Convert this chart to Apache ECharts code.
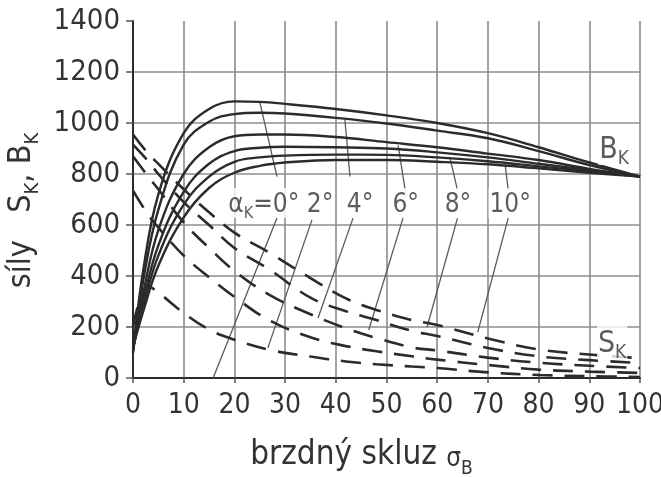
<!DOCTYPE html>
<html>
<head>
<meta charset="utf-8">
</head>
<body style="margin: 0; background: #fff">
<div id="container" style="width: 661px; height: 477px;"></div>
<script src="https://cdn.jsdelivr.net/npm/echarts@6/dist/echarts.min.js"></script>
<script type="text/javascript">
// brzdny skluz (x) for the solid B_K curves
var slipB = [0, 2, 5, 10, 15, 20, 25, 30, 40, 50, 60, 70, 80, 90, 100];
var bk0  = [100, 420, 720, 960, 1055, 1085, 1083, 1075, 1055, 1030, 1000, 960, 905, 845, 790];
var bk2  = [100, 380, 660, 915, 1005, 1035, 1040, 1037, 1020, 998, 970, 940, 890, 835, 790];
var bk4  = [110, 330, 580, 800, 905, 948, 955, 955, 945, 925, 905, 880, 855, 820, 790];
var bk6  = [110, 300, 520, 730, 840, 890, 903, 907, 905, 900, 885, 865, 840, 815, 790];
var bk8  = [120, 280, 480, 680, 790, 848, 865, 872, 876, 875, 865, 850, 830, 810, 790];
var bk10 = [120, 260, 440, 630, 745, 805, 832, 845, 855, 855, 848, 838, 822, 805, 790];

// x for the dashed S_K curves
var slipS = [0, 3, 5, 10, 15, 20, 27, 35, 42, 48, 55, 60, 70, 80, 90, 100];
var sk10 = [955, 880, 840, 740, 650, 570, 490, 392, 312, 267, 227, 208, 155, 112, 92, 78];
var sk8  = [915, 850, 800, 690, 600, 510, 424, 315, 262, 227, 185, 165, 118, 85, 70, 59];
var sk6  = [870, 790, 740, 610, 510, 420, 325, 250, 195, 157, 120, 108, 80, 60, 48, 39];
var sk4  = [735, 640, 590, 480, 395, 318, 225, 160, 125, 105, 85, 72, 51, 33, 25, 20];
var sk2  = [200, 360, 335, 255, 190, 150, 110, 84, 65, 54, 45, 39, 22, 12, 7, 4];

var xTicks = [0, 10, 20, 30, 40, 50, 60, 70, 80, 90, 100];
var yTicks = [0, 200, 400, 600, 800, 1000, 1200, 1400];

// annotation anchors (data coords)
var angleLabels = [
    ['{a|α}{s|K}{n|=0°}', 25.8, 686],
    ['{n|2°}', 36.9, 686],
    ['{n|4°}', 44.8, 686],
    ['{n|6°}', 53.8, 686],
    ['{n|8°}', 64.1, 686],
    ['{n|10°}', 74.4, 686]
];
var curveNames = [
    ['{n|B}{s|K}', 94.9, 902],
    ['{n|S}{s|K}', 94.5, 141]
];
var leaders = [
    [[28.4, 790], [25, 1083]],
    [[42.8, 790], [41.8, 1012]],
    [[53.7, 735], [52.3, 912]],
    [[64, 737], [62.5, 865]],
    [[74, 737], [73.4, 838]],
    [[28.4, 627], [15.8, 0]],
    [[35.3, 620], [26.6, 118]],
    [[43.4, 627], [36.5, 235]],
    [[53.3, 630], [46.5, 188]],
    [[64, 627], [58, 200]],
    [[74, 627], [68, 180]]
];

var FONT = "'DejaVu Sans Condensed', 'DejaVu Sans', sans-serif";
var INK = '#2b2b2b';
var TXT = '#333';

function pairs(xs, ys) {
    return xs.map(function (x, i) { return [x, ys[i]]; });
}

var series = [];
[bk0, bk2, bk4, bk6, bk8, bk10].forEach(function (ys) {
    series.push({
        type: 'line', data: pairs(slipB, ys), smooth: 0.4, symbol: 'none',
        lineStyle: { color: INK, width: 2.4 }, z: 3
    });
});
[sk2, sk4, sk6, sk8, sk10].forEach(function (ys) {
    series.push({
        type: 'line', data: pairs(slipS, ys), smooth: 0.4, symbol: 'none',
        lineStyle: { color: INK, width: 2.6, type: [20, 12] }, z: 3
    });
});
leaders.forEach(function (seg) {
    series.push({
        type: 'line', data: seg, symbol: 'none',
        lineStyle: { color: '#5a5a5a', width: 1.3 }, z: 2
    });
});

var series_labels = function (items, size) {
    return {
        type: 'scatter', symbolSize: 1, itemStyle: { color: 'rgba(0,0,0,0)' }, z: 5,
        data: items.map(function (d) { return { value: [d[1], d[2]], text: d[0] }; }),
        label: {
            show: true, position: 'inside', align: 'center', verticalAlign: 'middle',
            backgroundColor: '#fff', padding: [0, 1],
            formatter: function (p) { return p.data.text; },
            rich: {
                n: { fontFamily: FONT, fontSize: size, color: TXT, lineHeight: size + 4, verticalAlign: 'bottom' },
                a: { fontFamily: FONT, fontSize: size, color: TXT, lineHeight: size + 4, verticalAlign: 'bottom' },
                s: { fontFamily: FONT, fontSize: Math.round(size * 0.62), color: TXT, lineHeight: size + 4, verticalAlign: 'bottom', padding: [0, 0, -4, 0] }
            }
        }
    };
};
series.push(series_labels(angleLabels, 26));
series.push(series_labels(curveNames, 30));

var gridColors = yTicks.map(function (v) { return v === 1400 ? 'rgba(0,0,0,0)' : '#8c8c8c'; });

var option = {
    animation: false,
    backgroundColor: '#fff',
    grid: { left: 133, right: 21, top: 21, bottom: 99, containLabel: false, outerBoundsMode: 'none' },
    xAxis: {
        type: 'value', min: 0, max: 100, interval: 10,
        name: '{t|brzdný skluz }{g|σ}{s|B}',
        nameLocation: 'middle', nameGap: 56,
        nameTextStyle: {
            padding: [0, 50, 0, 0],
            rich: {
                t: { fontFamily: FONT, fontSize: 33, color: TXT, lineHeight: 38, verticalAlign: 'bottom' },
                g: { fontFamily: FONT, fontSize: 26, color: TXT, lineHeight: 38, verticalAlign: 'bottom' },
                s: { fontFamily: FONT, fontSize: 19, color: TXT, lineHeight: 38, verticalAlign: 'bottom', padding: [0, 0, -7, 0] }
            }
        },
        axisLine: { show: true, lineStyle: { color: INK, width: 2 } },
        axisTick: { show: true, length: 5, lineStyle: { color: '#555', width: 1.5 } },
        axisLabel: { margin: 14, fontFamily: FONT, fontSize: 28, color: TXT },
        splitLine: { show: true, lineStyle: { color: '#8c8c8c', width: 1.6 } }
    },
    yAxis: {
        type: 'value', min: 0, max: 1400, interval: 200,
        name: '{t|síly   S}{s|K}{t|, B}{s|K}',
        nameLocation: 'middle', nameRotate: 90, nameGap: 86,
        nameTextStyle: {
            padding: [0, 22, 0, 0],
            rich: {
                t: { fontFamily: FONT, fontSize: 32, color: TXT, lineHeight: 36, verticalAlign: 'bottom' },
                s: { fontFamily: FONT, fontSize: 20, color: TXT, lineHeight: 36, verticalAlign: 'bottom', padding: [0, 0, -5, 0] }
            }
        },
        axisLine: { show: true, lineStyle: { color: INK, width: 2 } },
        axisTick: { show: true, length: 7, lineStyle: { color: '#555', width: 1.5 } },
        axisLabel: {
            margin: 13, fontFamily: FONT, fontSize: 29, color: TXT,
            formatter: function (v) { return String(v); }
        },
        splitLine: { show: true, lineStyle: { color: gridColors, width: 1.6 } }
    },
    series: series
};

var chart = echarts.init(document.getElementById('container'));
chart.setOption(option);
</script>
</body>
</html>
